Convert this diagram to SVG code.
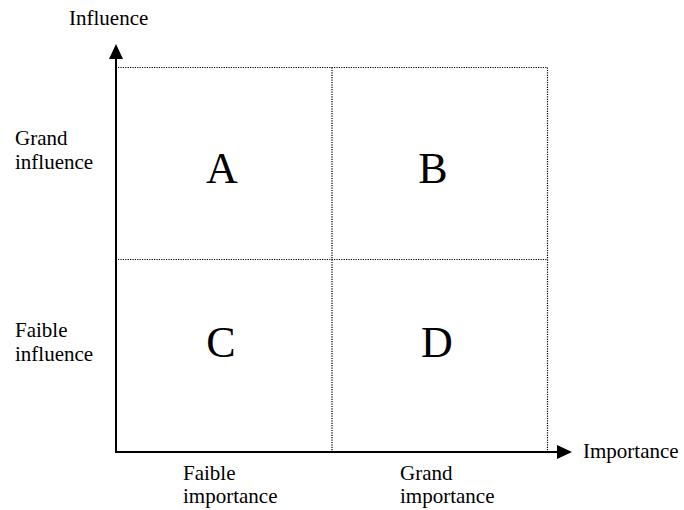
<svg xmlns="http://www.w3.org/2000/svg" width="684" height="510" viewBox="0 0 684 510">
<style>
.t{font-family:"Liberation Serif","Times New Roman",serif;font-size:21px;fill:#000}
.big{font-family:"Liberation Serif","Times New Roman",serif;font-size:44px;fill:#000;text-anchor:middle}
.dot{stroke:#000;stroke-width:1.2;stroke-dasharray:1.2,1.2;fill:none}
.axis{stroke:#000;stroke-width:2;fill:none}
</style>
<defs>
<marker id="arr" markerWidth="16" markerHeight="14" refX="0" refY="7" orient="auto" markerUnits="userSpaceOnUse">
<path d="M0,0 L15,7 L0,14 Z" fill="#000"/>
</marker>
</defs>
<rect width="684" height="510" fill="#fff"/>
<g id="grid">
<line class="dot" x1="118" y1="67.5" x2="547.5" y2="67.5"/>
<line class="dot" x1="118" y1="259.5" x2="547.5" y2="259.5"/>
<line class="dot" x1="332" y1="67.5" x2="332" y2="451"/>
<line class="dot" x1="547.5" y1="67.5" x2="547.5" y2="451"/>
</g>
<g id="connectors">
<line class="axis" x1="116" y1="453" x2="116" y2="59" marker-end="url(#arr)"/>
<line class="axis" x1="115" y1="452" x2="557" y2="452" marker-end="url(#arr)"/>
</g>
<g id="quadA"><text class="big" x="222" y="183">A</text></g>
<g id="quadB"><text class="big" x="433" y="183">B</text></g>
<g id="quadC"><text class="big" x="221" y="357">C</text></g>
<g id="quadD"><text class="big" x="437" y="357">D</text></g>
<g id="labels">
<text class="t" x="69" y="25">Influence</text>
<text class="t" x="583" y="458">Importance</text>
<text class="t" x="15" y="145">Grand</text>
<text class="t" x="15" y="169">influence</text>
<text class="t" x="15" y="337">Faible</text>
<text class="t" x="15" y="361">influence</text>
<text class="t" x="183" y="480">Faible</text>
<text class="t" x="183" y="503">importance</text>
<text class="t" x="400" y="480">Grand</text>
<text class="t" x="400" y="503">importance</text>
</g>
</svg>
